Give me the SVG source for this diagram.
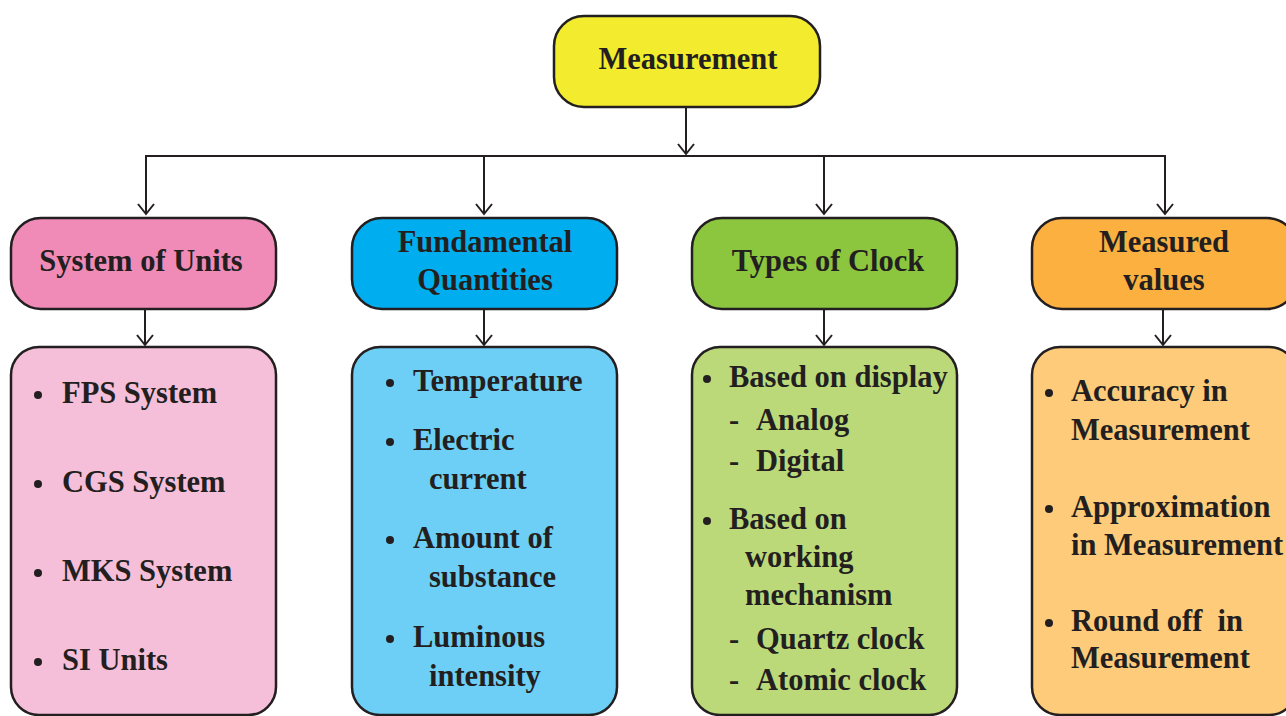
<svg xmlns="http://www.w3.org/2000/svg" width="1286" height="716" viewBox="0 0 1286 716">
<style>
.box{stroke:#231f20;stroke-width:2.5}
.t{font-family:"Liberation Serif","Times New Roman",serif;font-weight:bold;font-size:30.5px;fill:#231f20}
.c{text-anchor:middle}
.ln{stroke:#231f20;stroke-width:2;fill:none}
</style>
<defs>
<marker id="ah" markerWidth="20" markerHeight="20" refX="11" refY="10" markerUnits="userSpaceOnUse" orient="auto" viewBox="0 0 20 20">
<path d="M1,2 L11,10 L1,18" fill="none" stroke="#231f20" stroke-width="2"/>
</marker>
</defs>
<rect width="1286" height="716" fill="#fff"/>
<g id="connectors">
<line class="ln" x1="686" y1="107" x2="686" y2="154" marker-end="url(#ah)"/>
<line class="ln" x1="145" y1="156" x2="1166" y2="156"/>
<line class="ln" x1="146" y1="156" x2="146" y2="214" marker-end="url(#ah)"/>
<line class="ln" x1="484" y1="156" x2="484" y2="214" marker-end="url(#ah)"/>
<line class="ln" x1="824" y1="156" x2="824" y2="214" marker-end="url(#ah)"/>
<line class="ln" x1="1165" y1="156" x2="1165" y2="214" marker-end="url(#ah)"/>
<line class="ln" x1="145" y1="309" x2="145" y2="345" marker-end="url(#ah)"/>
<line class="ln" x1="484" y1="309" x2="484" y2="345" marker-end="url(#ah)"/>
<line class="ln" x1="824" y1="309" x2="824" y2="345" marker-end="url(#ah)"/>
<line class="ln" x1="1163" y1="309" x2="1163" y2="345" marker-end="url(#ah)"/>
</g>
<g id="measurement">
<rect class="box" x="554" y="16" width="266" height="91" rx="30" fill="#f3eb2e"/>
<text class="t c" x="688" y="69">Measurement</text>
</g>
<g id="system-of-units">
<rect class="box" x="11" y="218" width="265" height="91" rx="30" fill="#f08bb8"/>
<text class="t c" x="141" y="271">System of Units</text>
</g>
<g id="fundamental-quantities">
<rect class="box" x="352" y="218" width="265" height="91" rx="30" fill="#00aeef"/>
<text class="t c" x="485" y="252">Fundamental</text>
<text class="t c" x="485" y="290">Quantities</text>
</g>
<g id="types-of-clock">
<rect class="box" x="692" y="218" width="265" height="91" rx="30" fill="#8cc63f"/>
<text class="t c" x="828" y="271">Types of Clock</text>
</g>
<g id="measured-values">
<rect class="box" x="1032" y="218" width="265" height="91" rx="30" fill="#fbb040"/>
<text class="t c" x="1164" y="252">Measured</text>
<text class="t c" x="1164" y="290">values</text>
</g>
<g id="units-list">
<rect class="box" x="11" y="347" width="265" height="368" rx="28" fill="#f6bfd9"/>
<circle cx="38" cy="395" r="4" fill="#231f20"/>
<circle cx="38" cy="484" r="4" fill="#231f20"/>
<circle cx="38" cy="573" r="4" fill="#231f20"/>
<circle cx="38" cy="662" r="4" fill="#231f20"/>
<text class="t" x="62" y="403">FPS System</text>
<text class="t" x="62" y="492">CGS System</text>
<text class="t" x="62" y="581">MKS System</text>
<text class="t" x="62" y="670">SI Units</text>
</g>
<g id="quantities-list">
<rect class="box" x="352" y="347" width="265" height="368" rx="28" fill="#6dcff6"/>
<circle cx="390" cy="383" r="4" fill="#231f20"/>
<circle cx="390" cy="442" r="4" fill="#231f20"/>
<circle cx="390" cy="540" r="4" fill="#231f20"/>
<circle cx="390" cy="639" r="4" fill="#231f20"/>
<text class="t" x="413" y="391">Temperature</text>
<text class="t" x="413" y="450">Electric</text>
<text class="t" x="429" y="489">current</text>
<text class="t" x="413" y="548">Amount of</text>
<text class="t" x="429" y="587">substance</text>
<text class="t" x="413" y="647">Luminous</text>
<text class="t" x="429" y="686">intensity</text>
</g>
<g id="clock-list">
<rect class="box" x="692" y="347" width="265" height="368" rx="28" fill="#bcd97a"/>
<circle cx="707" cy="379" r="4" fill="#231f20"/>
<circle cx="707" cy="521" r="4" fill="#231f20"/>
<text class="t" x="729" y="387">Based on display</text>
<text class="t" x="729" y="430">-</text>
<text class="t" x="756" y="430">Analog</text>
<text class="t" x="729" y="471">-</text>
<text class="t" x="756" y="471">Digital</text>
<text class="t" x="729" y="529">Based on</text>
<text class="t" x="745" y="567">working</text>
<text class="t" x="745" y="605">mechanism</text>
<text class="t" x="729" y="649">-</text>
<text class="t" x="756" y="649">Quartz clock</text>
<text class="t" x="729" y="690">-</text>
<text class="t" x="756" y="690">Atomic clock</text>
</g>
<g id="values-list">
<rect class="box" x="1032" y="347" width="265" height="368" rx="28" fill="#fdcb7a"/>
<circle cx="1049" cy="393" r="4" fill="#231f20"/>
<circle cx="1049" cy="509" r="4" fill="#231f20"/>
<circle cx="1049" cy="623" r="4" fill="#231f20"/>
<text class="t" x="1071" y="401">Accuracy in</text>
<text class="t" x="1071" y="440">Measurement</text>
<text class="t" x="1071" y="517">Approximation</text>
<text class="t" x="1071" y="555">in Measurement</text>
<text class="t" x="1071" y="631">Round off&#160; in</text>
<text class="t" x="1071" y="668">Measurement</text>
</g>
</svg>
